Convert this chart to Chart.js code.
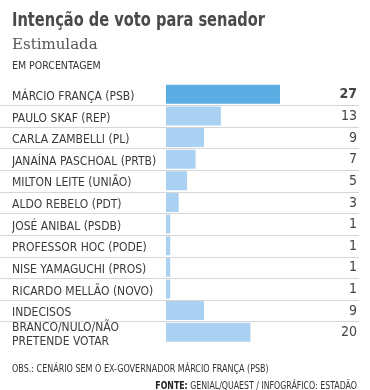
<!DOCTYPE html>
<html>
<head>
<meta charset="utf-8">
<script src="https://cdn.jsdelivr.net/npm/chart.js@4"></script>
<style>
  html,body{margin:0;padding:0;background:#fff;}
  body{width:370px;height:390px;position:relative;overflow:hidden;}
  #c{position:absolute;left:0;top:0;}
  .t{position:absolute;white-space:nowrap;}
  #title{left:12px;top:7px;font:bold 19px "DejaVu Sans Condensed","DejaVu Sans",sans-serif;color:#4a4a4a;line-height:24px;transform:scaleX(0.855);transform-origin:0 0;}
  #sub{left:12px;top:34px;font:15px "DejaVu Serif",serif;color:#555;line-height:20px;}
  #unit{left:12px;top:58px;font:10.5px "DejaVu Sans Condensed","DejaVu Sans",sans-serif;color:#333;line-height:14px;}
  #obs{left:12px;top:362px;font:11px "DejaVu Sans Condensed","DejaVu Sans",sans-serif;color:#333;line-height:14px;transform:scaleX(0.81);transform-origin:0 0;}
  #src{right:13px;top:378px;font:10.5px "DejaVu Sans Condensed","DejaVu Sans",sans-serif;color:#333;line-height:14px;transform:scaleX(0.83);transform-origin:100% 0;}
  #src b{color:#222;font-weight:bold;}
</style>
</head>
<body>
<canvas id="c" width="370" height="390"></canvas>
<div class="t" id="title">Intenção de voto para senador</div>
<div class="t" id="sub">Estimulada</div>
<div class="t" id="unit">EM PORCENTAGEM</div>
<div class="t" id="obs">OBS.: CENÁRIO SEM O EX-GOVERNADOR MÁRCIO FRANÇA (PSB)</div>
<div class="t" id="src"><b>FONTE:</b> GENIAL/QUAEST / INFOGRÁFICO: ESTADÃO</div>
<script>
const categories = [
  "MÁRCIO FRANÇA (PSB)",
  "PAULO SKAF (REP)",
  "CARLA ZAMBELLI (PL)",
  "JANAÍNA PASCHOAL (PRTB)",
  "MILTON LEITE (UNIÃO)",
  "ALDO REBELO (PDT)",
  "JOSÉ ANIBAL (PSDB)",
  "PROFESSOR HOC (PODE)",
  "NISE YAMAGUCHI (PROS)",
  "RICARDO MELLÃO (NOVO)",
  "INDECISOS",
  ["BRANCO/NULO/NÃO", "PRETENDE VOTAR"]
];
const values = [27, 13, 9, 7, 5, 3, 1, 1, 1, 1, 9, 20];
const highlightIndex = 0;

const colors = values.map((v, i) => i === highlightIndex ? "#5aade3" : "#aad1f1");

const separators = {
  id: "separators",
  beforeDatasetsDraw(chart) {
    const ctx = chart.ctx;
    const y = chart.scales.y;
    ctx.save();
    ctx.strokeStyle = "#d6d6d6";
    ctx.lineWidth = 1;
    for (let i = 0; i < categories.length - 1; i++) {
      const yy = Math.round((y.getPixelForValue(i) + y.getPixelForValue(i + 1)) / 2) + 0.5;
      ctx.beginPath();
      ctx.moveTo(0, yy);
      ctx.lineTo(359, yy);
      ctx.stroke();
    }
    ctx.restore();
  }
};

const valueLabels = {
  id: "valueLabels",
  afterDatasetsDraw(chart) {
    const ctx = chart.ctx;
    const meta = chart.getDatasetMeta(0);
    ctx.save();
    ctx.textAlign = "right";
    ctx.textBaseline = "middle";
    ctx.fillStyle = "#444";
    meta.data.forEach((bar, i) => {
      ctx.font = (i === highlightIndex ? "bold " : "") + "14px 'DejaVu Sans Condensed', 'DejaVu Sans', sans-serif";
      ctx.fillText(String(values[i]), 357, bar.y + 0.5);
    });
    ctx.restore();
  }
};

new Chart(document.getElementById("c"), {
  type: "bar",
  data: {
    labels: categories,
    datasets: [{
      data: values,
      backgroundColor: colors,
      borderWidth: 0,
      barPercentage: 0.9,
      categoryPercentage: 0.98
    }]
  },
  options: {
    indexAxis: "y",
    responsive: false,
    animation: false,
    events: [],
    layout: { padding: { left: 12, right: 13, top: 83.5, bottom: 47 } },
    plugins: { legend: { display: false }, tooltip: { enabled: false } },
    scales: {
      x: { display: false, min: 0, max: 45.25 },
      y: {
        grid: { display: false, drawTicks: false },
        border: { display: false },
        afterFit(scale) { scale.width = 154; },
        ticks: {
          autoSkip: false,
          crossAlign: "far",
          padding: 0,
          labelOffset: 2.5,
          color: "#3a3a3a",
          font: { family: "'DejaVu Sans Condensed', 'DejaVu Sans', sans-serif", size: 12, lineHeight: 1.2 }
        }
      }
    }
  },
  plugins: [separators, valueLabels]
});
</script>
</body>
</html>
